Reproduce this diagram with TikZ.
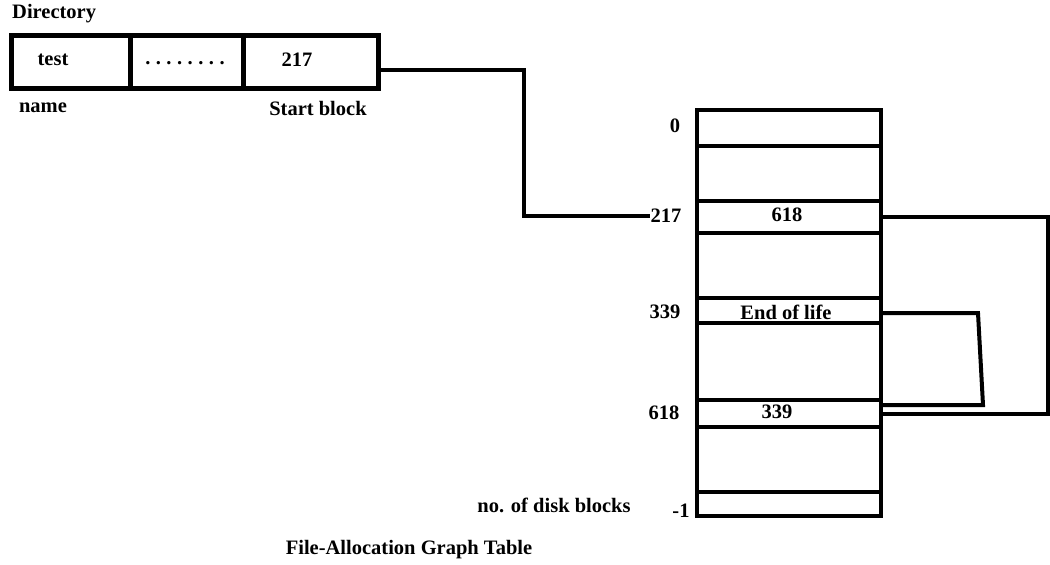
\documentclass[tikz,border=0pt]{standalone}
\usepackage{fontspec}
\setmainfont{Liberation Serif}
\begin{document}
\begin{tikzpicture}[x=1pt,y=-1pt,
  cell/.style={draw, line width=4.5pt, minimum width=184pt, inner sep=0pt, outer sep=0pt},
  dcell/.style={draw, line width=5pt, inner sep=0pt, outer sep=0pt, minimum height=53pt},
  lbl/.style={font=\bfseries\fontsize{20.5}{24}\selectfont, inner sep=0pt},
  wire/.style={line width=4pt, line join=miter}]
\useasboundingbox (0,0) rectangle (1050,565);
% Directory
\node[lbl, anchor=west] (dirt) at (12,14) {Directory};
\node[dcell, minimum width=119pt] (dir1) at (70.5,61.5) {};
\node[dcell, minimum width=113pt] (dir2) at (186.5,61.5) {};
\node[dcell, minimum width=135pt] (dir3) at (310.5,61.5) {};
\node[lbl] (t1) at (53,60) {test};
\node[lbl] (t2) at (185,63) {.\hspace{5.5pt}.\hspace{5.5pt}.\hspace{5.5pt}.\hspace{5.5pt}.\hspace{5.5pt}.\hspace{5.5pt}.\hspace{5.5pt}.};
\node[lbl] (t3) at (297,60) {217};
\node[lbl] (nm) at (43,108) {name};
\node[lbl] (sb) at (318,108) {Start block};
% Table rows
\node[cell, minimum height=36pt] (r0) at (789,128) {};
\node[cell, minimum height=55pt] (r1) at (789,173.5) {};
\node[cell, minimum height=32pt] (r217) at (789,217) {};
\node[cell, minimum height=65pt] (r2) at (789,265.5) {};
\node[cell, minimum height=25pt] (r339) at (789,310.5) {};
\node[cell, minimum height=77pt] (r3) at (789,361.5) {};
\node[cell, minimum height=27pt] (r618) at (789,413.5) {};
\node[cell, minimum height=65pt] (r4) at (789,459.5) {};
\node[cell, minimum height=24pt] (rl) at (789,504) {};
% Row texts
\node[lbl] (v217) at (787,215) {618};
\node[lbl] (v339) at (786,312) {End of life};
\node[lbl] (v618) at (777,412) {339};
% Left labels
\node[lbl] (l0) at (675,126) {0};
\node[lbl] (l217) at (666,216) {217};
\node[lbl] (l339) at (665,312) {339};
\node[lbl] (l618) at (664,413) {618};
\node[lbl] (lm1) at (681,511) {-1};
\node[lbl] (ndb) at (554,505) {no. of disk blocks};
\node[lbl] (cap) at (409,550) {File-Allocation Graph Table};
% Connectors
\coordinate (b1) at (524,70);
\draw[wire] (dir3.east |- b1) -- (b1) |- (l217.west);
\coordinate (cR) at (1048,0);
\draw[wire] (r217.east) -- (r217.east -| cR) -- (cR |- r618.east) -- (r618.east);
\coordinate (c3a) at (978,313);
\coordinate (c3b) at (983,405);
\draw[wire] (r339.east |- c3a) -- (c3a) -- (c3b) -- (r618.east |- c3b);
\end{tikzpicture}
\end{document}
